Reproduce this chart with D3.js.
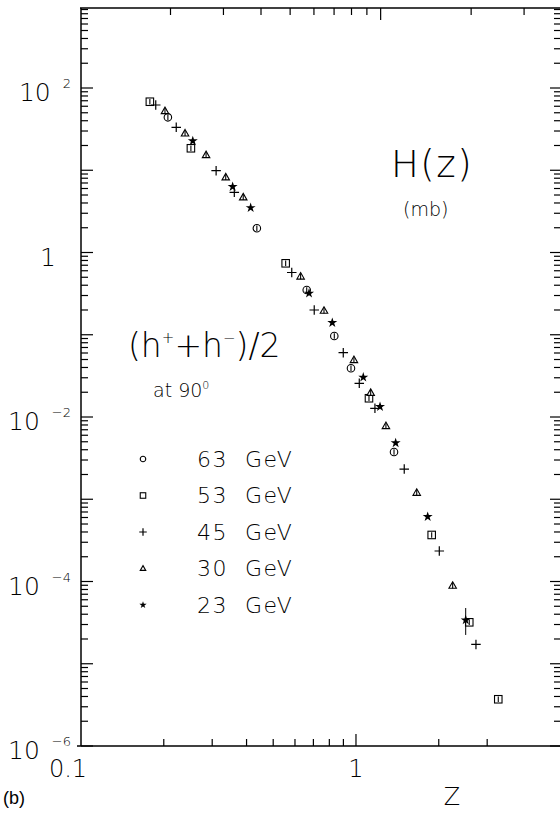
<!DOCTYPE html>
<html>
<head>
<meta charset="utf-8">
<script src="https://cdn.jsdelivr.net/npm/d3@7"></script>
<style>
  body { margin: 0; background: #fff; }
  text { font-family: "DejaVu Sans", sans-serif; font-weight: 200; fill: #000; }
</style>
</head>
<body>
<svg id="chart" width="560" height="816"></svg>
<script>

// H(z) for (h+ + h-)/2 at 90 degrees, one pair of arrays per energy
var z63 = [0.207, 0.436, 0.662, 0.834, 0.959, 1.375],
    h63 = [44.0, 1.97, 0.35, 0.0966, 0.0391, 0.00375];

var z53 = [0.178, 0.251, 0.555, 1.115, 1.885, 2.582, 3.292],
    h53 = [68.1, 18.5, 0.739, 0.0169, 3.68e-4, 3.19e-5, 3.70e-6];

var z45 = [0.187, 0.222, 0.310, 0.361, 0.584, 0.705, 0.899, 1.028, 1.172, 1.498, 2.009, 2.731],
    h45 = [62.1, 33.3, 9.87, 5.39, 0.571, 0.200, 0.0605, 0.0257, 0.01275, 0.00233, 2.35e-4, 1.72e-5];

var z30 = [0.202, 0.239, 0.285, 0.336, 0.389, 0.629, 0.765, 0.983, 1.131, 1.285, 1.663, 2.247],
    h30 = [52.5, 28.1, 15.3, 8.21, 4.69, 0.511, 0.196, 0.0493, 0.0197, 0.00777, 0.0012, 8.89e-5];

var z23 = [0.255, 0.356, 0.414, 0.675, 0.820, 1.063, 1.223, 1.394, 1.823, 2.506],
    h23 = [22.7, 6.31, 3.50, 0.319, 0.140, 0.0304, 0.01334, 0.00483, 6.13e-4, 3.40e-5];

// the one visible long error bar (23 GeV, last point)
var err23 = [null, null, null, null, null, null, null, null, null, [2.24e-5, 4.76e-5]];

var legendLabels = ["63", "53", "45", "30", "23"],
    markerTypes = ["circle", "square", "plus", "triangle", "star"];

var xTicks = [0.2, 0.3, 0.4, 0.5, 0.6, 0.7, 0.8, 0.9, 1, 2, 3],
    xLabels = [0.1, 1],
    yLabelExp = [2, 0, -2, -4, -6];

var series = [
    {label: legendLabels[0], type: markerTypes[0], z: z63, h: h63},
    {label: legendLabels[1], type: markerTypes[1], z: z53, h: h53},
    {label: legendLabels[2], type: markerTypes[2], z: z45, h: h45},
    {label: legendLabels[3], type: markerTypes[3], z: z30, h: h30},
    {label: legendLabels[4], type: markerTypes[4], z: z23, h: h23, err: err23}
];

var svg = d3.select("#chart");

// plot box (window.top is read-only, so no plain "top")
var box = {left: 81, right: 560, top: 8, bottom: 746};

var x = d3.scaleLog().domain([0.1, 5.52]).range([box.left, box.right]);
var xTop = d3.scaleLog().domain([0.1, 3.95]).range([box.left - 1, box.right]);   // upper frame ticks are spaced differently
var y = d3.scaleLog().domain([1e-6, 939]).range([box.bottom, box.top]);

// minor + major log ticks on y
var yTicks = [];
for (var e = -6; e <= 2; e++) {
    for (var m = 1; m <= 9; m++) {
        var v = m * Math.pow(10, e);
        if (v <= 939) yTicks.push(v);
    }
}
var isMajor = function (v) { return Math.abs(Math.log10(v) - Math.round(Math.log10(v))) < 1e-6; };

var frame = svg.append("g").attr("stroke", "#000").attr("fill", "none");

frame.append("line").attr("x1", box.left).attr("x2", box.left).attr("y1", box.top).attr("y2", box.bottom).attr("stroke-width", 1.5);
frame.append("line").attr("x1", box.left - 4).attr("x2", box.right).attr("y1", box.bottom).attr("y2", box.bottom).attr("stroke-width", 1.5);
frame.append("line").attr("x1", box.left - 1).attr("x2", box.right).attr("y1", box.top).attr("y2", box.top).attr("stroke-width", 1.5);

// left + right ticks
frame.selectAll(".yl").data(yTicks).enter().append("line")
    .attr("x1", box.left).attr("x2", function (d) { return box.left + (isMajor(d) ? 12 : 7); })
    .attr("y1", function (d) { return y(d); }).attr("y2", function (d) { return y(d); })
    .attr("stroke-width", 1.2);

frame.selectAll(".yr").data(yTicks).enter().append("line")
    .attr("x1", box.right).attr("x2", function (d) { return box.right - (isMajor(d) ? 10 : 6); })
    .attr("y1", function (d) { return y(d); }).attr("y2", function (d) { return y(d); })
    .attr("stroke-width", 1.2);

// bottom + top ticks
frame.selectAll(".xb").data(xTicks).enter().append("line")
    .attr("x1", function (d) { return x(d); }).attr("x2", function (d) { return x(d); })
    .attr("y1", box.bottom).attr("y2", function (d) { return box.bottom - (d === 1 ? 12 : 7); })
    .attr("stroke-width", 1.2);

frame.selectAll(".xt").data(xTicks).enter().append("line")
    .attr("x1", function (d) { return xTop(d); }).attr("x2", function (d) { return xTop(d); })
    .attr("y1", box.top).attr("y2", function (d) { return box.top + (d === 1 ? 12 : 7); })
    .attr("stroke-width", 1.2);

// y labels, 10^n style
svg.selectAll(".ylab").data(yLabelExp).enter().append("text")
    .attr("x", function (d) { return d === 0 ? 56 : 71; })
    .attr("y", function (d) { return y(Math.pow(10, d)) + 13; })
    .attr("text-anchor", "end")
    .style("font-size", "25px")
    .each(function (d) {
        var t = d3.select(this);
        if (d === 0) { t.text("1"); return; }
        t.append("tspan").text("10");
        t.append("tspan").attr("dx", 12).attr("dy", -13).style("font-size", "13px")
            .text(d < 0 ? "\u2212" + (-d) : String(d));
    });

// x labels
svg.selectAll(".xlab").data(xLabels).enter().append("text")
    .attr("x", function (d) { return x(d); })
    .attr("dx", function (d) { return d === 0.1 ? -13 : 0; })
    .attr("y", 777)
    .attr("text-anchor", "middle")
    .style("font-size", "24px")
    .text(function (d) { return d === 0.1 ? "0.1" : "1"; });

svg.append("text").attr("x", 452).attr("y", 805).attr("text-anchor", "middle")
    .style("font-size", "24px").text("Z");

svg.append("text").attr("x", 3).attr("y", 804)
    .style("font-family", "'Liberation Sans', Arial, sans-serif").style("font-weight", 400)
    .style("font-size", "18px").text("(b)");

// markers
function drawMarker(g, type, s, withBar) {
    var r = s / 2;
    if (type === "circle") {
        g.append("circle").attr("r", r).attr("fill", "#fff").attr("stroke", "#000").attr("stroke-width", 1.1);
    } else if (type === "square") {
        g.append("rect").attr("x", -r).attr("y", -r).attr("width", s).attr("height", s)
            .attr("fill", "#fff").attr("stroke", "#000").attr("stroke-width", 1.1);
    } else if (type === "plus") {
        g.append("path").attr("d", "M" + (-r - 1) + ",0H" + (r + 1) + "M0," + (-r - 1) + "V" + (r + 1))
            .attr("stroke", "#000").attr("stroke-width", 1.2);
        return;
    } else if (type === "triangle") {
        var hgt = s * 0.87;
        g.append("path").attr("d", "M0," + (-hgt * 0.6) + "L" + r + "," + (hgt * 0.4) + "L" + (-r) + "," + (hgt * 0.4) + "Z")
            .attr("fill", "#fff").attr("stroke", "#000").attr("stroke-width", 1.1);
    } else if (type === "star") {
        g.append("path").attr("d", d3.symbol(d3.symbolStar).size(s * s * 0.55)())
            .attr("fill", "#000");
        return;
    }
    if (withBar) {
        g.append("line").attr("y1", -r + 1).attr("y2", r - 1).attr("stroke", "#000").attr("stroke-width", 1.1);
    }
}

series.forEach(function (sr) {
    var pts = sr.z.map(function (z, i) { return {z: z, h: sr.h[i], err: sr.err ? sr.err[i] : null}; });
    var g = svg.append("g");
    pts.forEach(function (p) {
        if (p.err) {
            g.append("line").attr("x1", x(p.z)).attr("x2", x(p.z))
                .attr("y1", y(p.err[0])).attr("y2", y(p.err[1]))
                .attr("stroke", "#000").attr("stroke-width", 1);
        }
        var m = g.append("g").attr("transform", "translate(" + x(p.z) + "," + y(p.h) + ")");
        drawMarker(m, sr.type, 7.5, true);
    });
});

// annotations
var hh = svg.append("text").attr("x", 128).attr("y", 357).style("font-size", "33px");
hh.append("tspan").text("(h");
hh.append("tspan").attr("dy", -14).style("font-size", "15px").text("+");
hh.append("tspan").attr("dy", 14).text("+h");
hh.append("tspan").attr("dy", -14).style("font-size", "15px").text("\u2212");
hh.append("tspan").attr("dy", 14).text(")/2");

var at = svg.append("text").attr("x", 153).attr("y", 397).style("font-size", "19px");
at.append("tspan").text("at 90");
at.append("tspan").attr("dy", -8).style("font-size", "11px").text("0");

svg.append("text").attr("x", 391).attr("y", 177).style("font-size", "37px")
    .style("letter-spacing", "1.5px").text("H(z)");
svg.append("text").attr("x", 403).attr("y", 216).style("font-size", "19px").text("(mb)");

// legend
var legendY = d3.scalePoint().domain(legendLabels).range([459, 605]);
series.forEach(function (sr) {
    var ly = legendY(sr.label);
    var m = svg.append("g").attr("transform", "translate(143," + ly + ")");
    drawMarker(m, sr.type, 5.5, false);
    svg.append("text").attr("x", 197).attr("y", ly + 7.5)
        .style("font-size", "22px").style("white-space", "pre").style("letter-spacing", "1.5px")
        .text(sr.label + "  GeV");
});

</script>
</body>
</html>
